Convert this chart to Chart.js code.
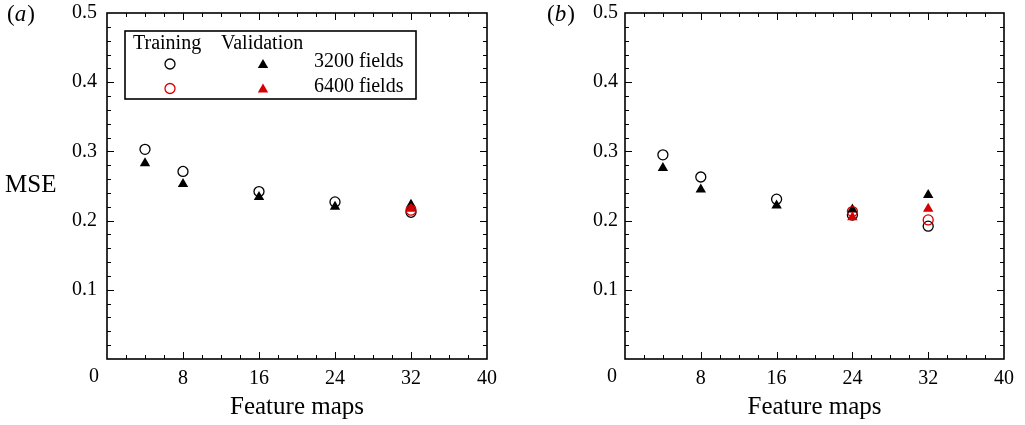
<!DOCTYPE html>
<html>
<head>
<meta charset="utf-8">
<script src="https://cdn.jsdelivr.net/npm/chart.js@4"></script>
<style>
  body { margin: 0; background: #fff; }
  .panel { position: absolute; top: 0; height: 425px; }
</style>
</head>
<body>
<div class="panel" style="left:0;width:512px"><canvas id="chartA"></canvas></div>
<div class="panel" style="left:512px;width:513px"><canvas id="chartB"></canvas></div>
<script>
// Datos
const featureMaps = [4, 8, 16, 24, 32];
const xTicks = [0, 8, 16, 24, 32, 40];
const yTicks = [0.1, 0.2, 0.3, 0.4, 0.5];

// panel (a)
const trainA3200 = [0.303, 0.271, 0.242, 0.227, 0.212];
const valA3200 = [0.283, 0.253, 0.234, 0.220, 0.223];
const trainA6400 = [null, null, null, null, 0.215];
const valA6400 = [null, null, null, null, 0.217];

// panel (b)
const trainB3200 = [0.295, 0.263, 0.231, 0.208, 0.192];
const valB3200 = [0.276, 0.245, 0.222, 0.216, 0.237];
const trainB6400 = [null, null, null, 0.213, 0.201];
const valB6400 = [null, null, null, 0.205, 0.217];

const SERIF = "'Liberation Serif', 'Times New Roman', serif";
const RED = '#d60000';

function points(ys) {
    return featureMaps.map((x, i) => ({ x: x, y: ys[i] })).filter(p => p.y !== null);
}

// Marco, ticks hacia dentro, etiquetas y leyenda
const framePlugin = {
    id: 'frame',
    beforeDatasetsDraw(chart) {
        const ctx = chart.ctx;
        const { left, right, top, bottom } = chart.chartArea;
        const sx = chart.scales.x, sy = chart.scales.y;
        ctx.save();
        ctx.strokeStyle = '#000';
        ctx.lineWidth = 1;
        for (let v = 2; v < 40; v += 2) {
            const px = Math.round(sx.getPixelForValue(v)) + 0.5;
            const len = v % 8 === 0 ? 7 : 4;
            ctx.beginPath();
            ctx.moveTo(px, bottom); ctx.lineTo(px, bottom - len);
            ctx.moveTo(px, top); ctx.lineTo(px, top + len);
            ctx.stroke();
        }
        for (let k = 1; k < 25; k++) {
            const py = Math.round(sy.getPixelForValue(k * 0.02)) + 0.5;
            const len = k % 5 === 0 ? 7 : 4;
            ctx.beginPath();
            ctx.moveTo(left, py); ctx.lineTo(left + len, py);
            ctx.moveTo(right, py); ctx.lineTo(right - len, py);
            ctx.stroke();
        }
        ctx.lineWidth = 1.6;
        ctx.strokeRect(left, top, right - left, bottom - top);
        ctx.restore();
    },
    afterDraw(chart, args, opts) {
        const ctx = chart.ctx;
        const { left, bottom } = chart.chartArea;
        ctx.save();
        ctx.fillStyle = '#000';
        ctx.textBaseline = 'middle';
        // etiqueta del panel
        ctx.textAlign = 'left';
        ctx.font = '23px ' + SERIF;
        ctx.fillText('(', opts.labelX, 15);
        const w1 = ctx.measureText('(').width;
        ctx.font = 'italic 23px ' + SERIF;
        ctx.fillText(opts.letter, opts.labelX + w1, 15);
        const w2 = ctx.measureText(opts.letter).width;
        ctx.font = '23px ' + SERIF;
        ctx.fillText(')', opts.labelX + w1 + w2 + 1, 15);
        // cero del eje x
        ctx.textAlign = 'center';
        ctx.font = '20px ' + SERIF;
        ctx.fillText('0', left - 13, bottom + 18);
        if (opts.showYTitle) {
            ctx.textAlign = 'left';
            ctx.font = '25px ' + SERIF;
            ctx.fillText('MSE', 5, 185);
        }
        if (opts.showLegend) {
            ctx.lineWidth = 1.6;
            ctx.strokeStyle = '#000';
            ctx.strokeRect(125, 31, 291, 68);
            ctx.font = '20px ' + SERIF;
            ctx.textAlign = 'left';
            ctx.fillText('Training', 133, 44);
            ctx.fillText('Validation', 221, 44);
            ctx.fillText('3200 fields', 314, 62);
            ctx.fillText('6400 fields', 314, 87);
            const rows = [{ y: 64, c: '#000' }, { y: 88.5, c: RED }];
            rows.forEach(r => {
                ctx.lineWidth = 1.3;
                ctx.strokeStyle = r.c;
                ctx.beginPath();
                ctx.arc(170, r.y, 5, 0, Math.PI * 2);
                ctx.stroke();
                ctx.fillStyle = r.c;
                Chart.helpers.drawPoint(ctx, { pointStyle: 'triangle', radius: 6, rotation: 0, borderWidth: 0 }, 263, r.y + 1);
            });
        }
        ctx.restore();
    }
};

function noPad(s) {
    s.paddingTop = 0; s.paddingBottom = 0; s.paddingLeft = 0; s.paddingRight = 0;
}

function makePanel(id, data, cfg) {
    const circle = (color, ys, order) => ({
        data: points(ys), pointStyle: 'circle', pointRadius: 5, pointBorderWidth: 1.3,
        pointBorderColor: color, pointBackgroundColor: 'rgba(0,0,0,0)', showLine: false, order: order
    });
    const tri = (color, ys, order) => ({
        data: points(ys), pointStyle: 'triangle', pointRadius: 6, pointBorderWidth: 0,
        pointBorderColor: color, pointBackgroundColor: color, showLine: false, order: order
    });
    return new Chart(document.getElementById(id), {
        type: 'scatter',
        data: {
            datasets: [
                circle('#000', data.train3200, 4),
                tri('#000', data.val3200, 3),
                circle(RED, data.train6400, 2),
                tri(RED, data.val6400, 1)
            ]
        },
        options: {
            responsive: true,
            maintainAspectRatio: false,
            animation: false,
            layout: { autoPadding: false, padding: { top: 13, right: cfg.padRight, bottom: 0, left: 0 } },
            plugins: {
                legend: { display: false },
                tooltip: { enabled: false },
                frame: cfg.frame
            },
            scales: {
                x: {
                    type: 'linear', min: 0, max: 40,
                    afterBuildTicks: s => { s.ticks = xTicks.map(v => ({ value: v })); },
                    afterFit: s => { s.height = 66; noPad(s); },
                    grid: { display: false, drawTicks: false },
                    border: { display: false },
                    ticks: {
                        color: '#000', padding: 8, maxRotation: 0,
                        font: { family: SERIF, size: 20 },
                        callback: v => (v === 0 ? '' : String(v))
                    },
                    title: {
                        display: true, text: 'Feature maps', color: '#000',
                        font: { family: SERIF, size: 25 }, padding: { top: 0, bottom: 3 }
                    }
                },
                y: {
                    type: 'linear', min: 0, max: 0.5,
                    afterBuildTicks: s => { s.ticks = yTicks.map(v => ({ value: v })); },
                    afterFit: s => { s.width = cfg.yWidth; noPad(s); },
                    grid: { display: false, drawTicks: false },
                    border: { display: false },
                    ticks: {
                        color: '#000', padding: cfg.yPad,
                        font: { family: SERIF, size: 20 },
                        callback: v => v.toFixed(1)
                    }
                }
            }
        },
        plugins: [framePlugin]
    });
}

makePanel('chartA',
    { train3200: trainA3200, val3200: valA3200, train6400: trainA6400, val6400: valA6400 },
    { padRight: 25, yWidth: 107, yPad: 10,
      frame: { letter: 'a', labelX: 7, showYTitle: true, showLegend: true } });

makePanel('chartB',
    { train3200: trainB3200, val3200: valB3200, train6400: trainB6400, val6400: valB6400 },
    { padRight: 21, yWidth: 113, yPad: 7,
      frame: { letter: 'b', labelX: 35, showYTitle: false, showLegend: false } });
</script>
</body>
</html>
